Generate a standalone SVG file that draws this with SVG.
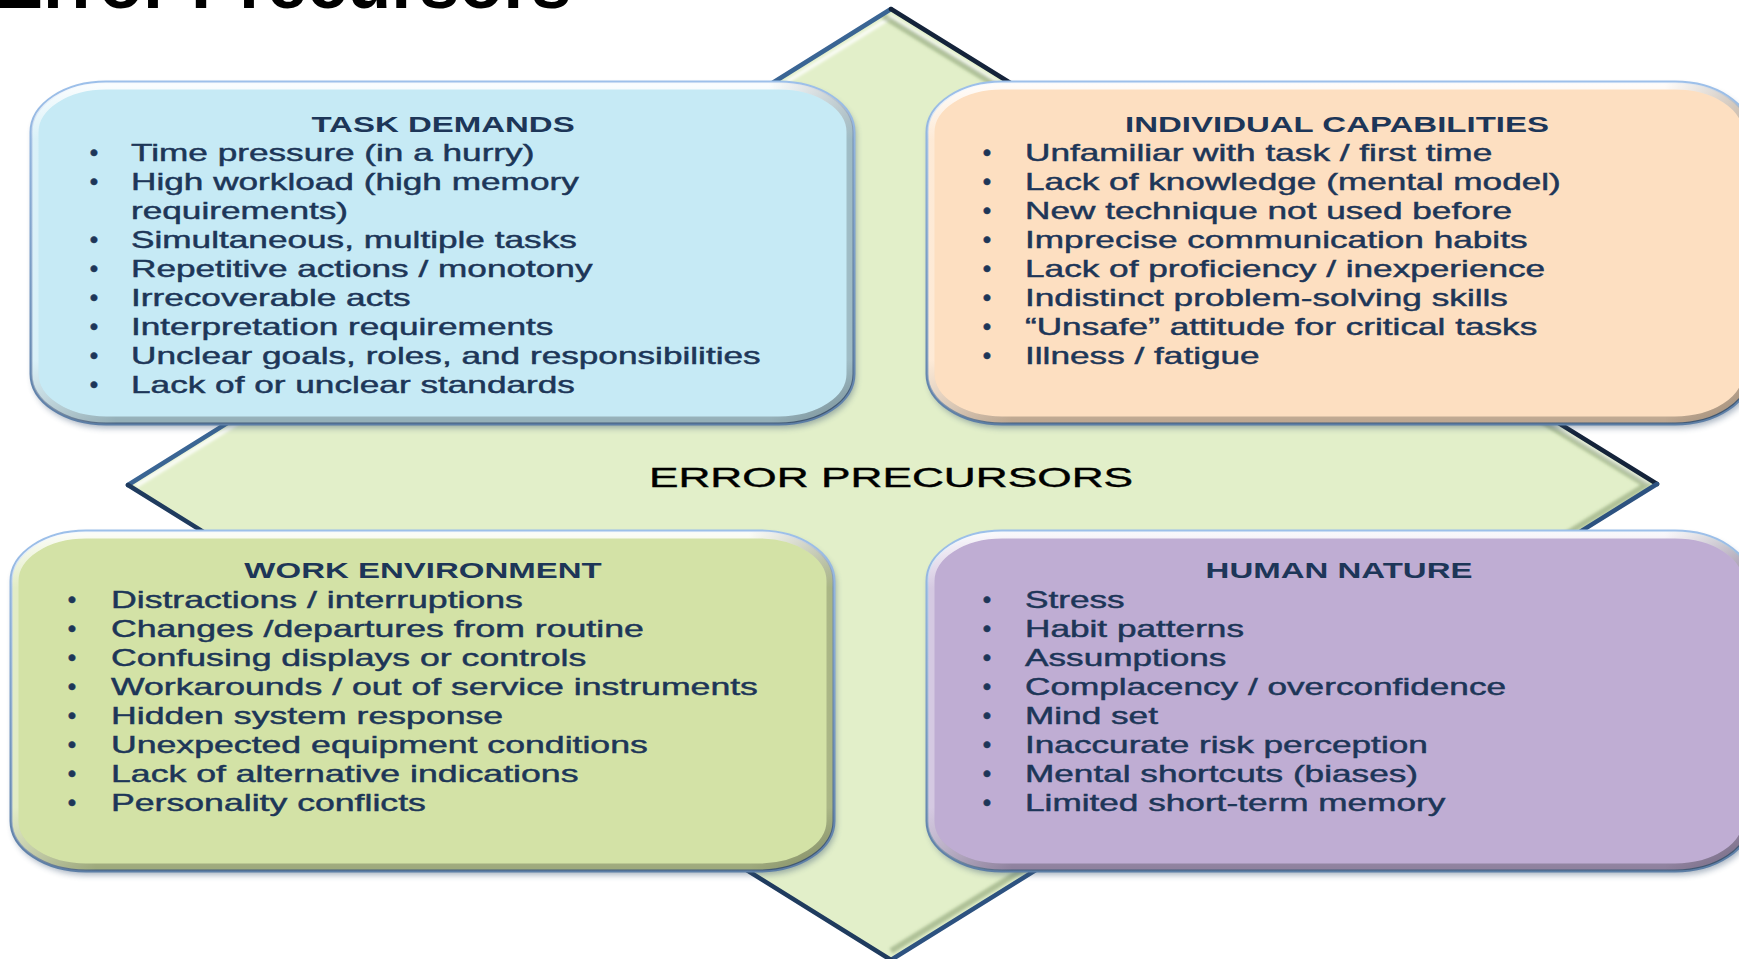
<svg xmlns="http://www.w3.org/2000/svg" width="1739" height="959" viewBox="0 0 1739 959">
<defs>
<style>
.t{font-family:"Liberation Sans",Arial,sans-serif;font-size:23px;fill:#1D3658;stroke:#1D3658;stroke-width:0.45px}
.h{font-family:"Liberation Sans",Arial,sans-serif;font-size:22px;font-weight:bold;fill:#1D3658;text-anchor:middle}
.b{font-family:"Liberation Sans",Arial,sans-serif;font-size:24px;fill:#1D3658;stroke:#1D3658;stroke-width:0.5px;text-anchor:middle}
.box{stroke:url(#edge);stroke-width:3}
.bev{fill:none;stroke:url(#bevel);stroke-width:7}
.bevr{fill:none;stroke:url(#bevelr);stroke-width:7}
.sh{fill:#3C5675;opacity:0.45}
</style>
<linearGradient id="edge" x1="0" y1="0" x2="0" y2="1">
<stop offset="0" stop-color="#9DC0EA"/>
<stop offset="1" stop-color="#5C7EA6"/>
</linearGradient>
<linearGradient id="bevel" x1="0" y1="0" x2="0" y2="1">
<stop offset="0" stop-color="#ffffff" stop-opacity="0.9"/>
<stop offset="0.16" stop-color="#ffffff" stop-opacity="0"/>
<stop offset="0.82" stop-color="#000000" stop-opacity="0"/>
<stop offset="1" stop-color="#000000" stop-opacity="0.25"/>
</linearGradient>
<linearGradient id="bevelr" x1="0" y1="0" x2="1" y2="0">
<stop offset="0" stop-color="#ffffff" stop-opacity="0.35"/>
<stop offset="0.1" stop-color="#ffffff" stop-opacity="0"/>
<stop offset="0.9" stop-color="#000000" stop-opacity="0"/>
<stop offset="1" stop-color="#000000" stop-opacity="0.2"/>
</linearGradient>
<filter id="blur" x="-10%" y="-10%" width="120%" height="130%">
<feGaussianBlur stdDeviation="3"/>
</filter>
<filter id="soft" x="-5%" y="-5%" width="110%" height="110%">
<feGaussianBlur stdDeviation="1.5"/>
</filter>
</defs>

<rect x="0" y="0" width="1739" height="959" fill="#ffffff"/>

<g id="title">
<text x="-5" y="8" font-family="'Liberation Sans',Arial,sans-serif" font-size="72" font-weight="bold" fill="#000000">Error Precursors</text>
</g>

<g id="error-precursors">
<polygon points="891,9 1657,484 891,960 128,485" fill="#E2EFC9"/>
<polyline points="136,486 891,17 1648,484" fill="none" stroke="#ffffff" stroke-opacity="0.85" stroke-width="4" filter="url(#soft)"/>
<polyline points="883,16 1646,485 891,951" fill="none" stroke="#5E7A4A" stroke-opacity="0.4" stroke-width="6" filter="url(#soft)"/>
<line x1="128" y1="485" x2="891" y2="9" stroke="#3A6594" stroke-width="4.5" stroke-linecap="round"/>
<line x1="891" y1="9" x2="1657" y2="484" stroke="#14233A" stroke-width="4.5" stroke-linecap="round"/>
<line x1="1657" y1="484" x2="891" y2="960" stroke="#2D5280" stroke-width="4.5" stroke-linecap="round"/>
<line x1="891" y1="960" x2="128" y2="485" stroke="#1F3B5E" stroke-width="4.5" stroke-linecap="round"/>
<text transform="translate(891 487) scale(1.58 1)" font-family="'Liberation Sans',Arial,sans-serif" font-size="28" fill="#000000" stroke="#000000" stroke-width="0.4" text-anchor="middle">ERROR PRECURSORS</text>
</g>

<g id="connectors"></g>

<g id="task-demands">
<rect class="sh" x="33" y="86" width="823" height="342" rx="75" ry="50" filter="url(#blur)"/>
<rect class="box" x="31" y="82" width="823" height="342" rx="75" ry="50" fill="#C6EAF5"/>
<rect class="bev" x="35" y="86" width="815" height="334" rx="71" ry="46"/>
<rect class="bevr" x="35" y="86" width="815" height="334" rx="71" ry="46"/>
<text class="h" transform="translate(443 132) scale(1.5 1)">TASK DEMANDS</text>
<text class="b"><tspan x="94" y="161">•</tspan><tspan x="94" y="190">•</tspan><tspan x="94" y="248">•</tspan><tspan x="94" y="277">•</tspan><tspan x="94" y="306">•</tspan><tspan x="94" y="335">•</tspan><tspan x="94" y="364">•</tspan><tspan x="94" y="393">•</tspan></text>
<g transform="translate(131 0) scale(1.53 1)">
<text class="t"><tspan x="0" y="161">Time pressure (in a hurry)</tspan><tspan x="0" y="190">High workload (high memory</tspan><tspan x="0" y="219">requirements)</tspan><tspan x="0" y="248">Simultaneous, multiple tasks</tspan><tspan x="0" y="277">Repetitive actions / monotony</tspan><tspan x="0" y="306">Irrecoverable acts</tspan><tspan x="0" y="335">Interpretation requirements</tspan><tspan x="0" y="364">Unclear goals, roles, and responsibilities</tspan><tspan x="0" y="393">Lack of or unclear standards</tspan></text>
</g>
</g>

<g id="individual-capabilities">
<rect class="sh" x="929" y="86" width="823" height="342" rx="75" ry="50" filter="url(#blur)"/>
<rect class="box" x="927" y="82" width="823" height="342" rx="75" ry="50" fill="#FDDFC1"/>
<rect class="bev" x="931" y="86" width="815" height="334" rx="71" ry="46"/>
<rect class="bevr" x="931" y="86" width="815" height="334" rx="71" ry="46"/>
<text class="h" transform="translate(1337 132) scale(1.5 1)">INDIVIDUAL CAPABILITIES</text>
<text class="b"><tspan x="987" y="161">•</tspan><tspan x="987" y="190">•</tspan><tspan x="987" y="219">•</tspan><tspan x="987" y="248">•</tspan><tspan x="987" y="277">•</tspan><tspan x="987" y="306">•</tspan><tspan x="987" y="335">•</tspan><tspan x="987" y="364">•</tspan></text>
<g transform="translate(1025 0) scale(1.53 1)">
<text class="t"><tspan x="0" y="161">Unfamiliar with task / first time</tspan><tspan x="0" y="190">Lack of knowledge (mental model)</tspan><tspan x="0" y="219">New technique not used before</tspan><tspan x="0" y="248">Imprecise communication habits</tspan><tspan x="0" y="277">Lack of proficiency / inexperience</tspan><tspan x="0" y="306">Indistinct problem-solving skills</tspan><tspan x="0" y="335">“Unsafe” attitude for critical tasks</tspan><tspan x="0" y="364">Illness / fatigue</tspan></text>
</g>
</g>

<g id="work-environment">
<rect class="sh" x="13" y="535" width="823" height="340" rx="75" ry="50" filter="url(#blur)"/>
<rect class="box" x="11" y="531" width="823" height="340" rx="75" ry="50" fill="#D3E2A6"/>
<rect class="bev" x="15" y="535" width="815" height="332" rx="71" ry="46"/>
<rect class="bevr" x="15" y="535" width="815" height="332" rx="71" ry="46"/>
<text class="h" transform="translate(423 578) scale(1.5 1)">WORK ENVIRONMENT</text>
<text class="b"><tspan x="72" y="608">•</tspan><tspan x="72" y="637">•</tspan><tspan x="72" y="666">•</tspan><tspan x="72" y="695">•</tspan><tspan x="72" y="724">•</tspan><tspan x="72" y="753">•</tspan><tspan x="72" y="782">•</tspan><tspan x="72" y="811">•</tspan></text>
<g transform="translate(111 0) scale(1.55 1)">
<text class="t"><tspan x="0" y="608">Distractions / interruptions</tspan><tspan x="0" y="637">Changes /departures from routine</tspan><tspan x="0" y="666">Confusing displays or controls</tspan><tspan x="0" y="695">Workarounds / out of service instruments</tspan><tspan x="0" y="724">Hidden system response</tspan><tspan x="0" y="753">Unexpected equipment conditions</tspan><tspan x="0" y="782">Lack of alternative indications</tspan><tspan x="0" y="811">Personality conflicts</tspan></text>
</g>
</g>

<g id="human-nature">
<rect class="sh" x="929" y="535" width="823" height="340" rx="75" ry="50" filter="url(#blur)"/>
<rect class="box" x="927" y="531" width="823" height="340" rx="75" ry="50" fill="#BFADD3"/>
<rect class="bev" x="931" y="535" width="815" height="332" rx="71" ry="46"/>
<rect class="bevr" x="931" y="535" width="815" height="332" rx="71" ry="46"/>
<text class="h" transform="translate(1339 578) scale(1.5 1)">HUMAN NATURE</text>
<text class="b"><tspan x="987" y="608">•</tspan><tspan x="987" y="637">•</tspan><tspan x="987" y="666">•</tspan><tspan x="987" y="695">•</tspan><tspan x="987" y="724">•</tspan><tspan x="987" y="753">•</tspan><tspan x="987" y="782">•</tspan><tspan x="987" y="811">•</tspan></text>
<g transform="translate(1025 0) scale(1.53 1)">
<text class="t"><tspan x="0" y="608">Stress</tspan><tspan x="0" y="637">Habit patterns</tspan><tspan x="0" y="666">Assumptions</tspan><tspan x="0" y="695">Complacency / overconfidence</tspan><tspan x="0" y="724">Mind set</tspan><tspan x="0" y="753">Inaccurate risk perception</tspan><tspan x="0" y="782">Mental shortcuts (biases)</tspan><tspan x="0" y="811">Limited short-term memory</tspan></text>
</g>
</g>
</svg>
